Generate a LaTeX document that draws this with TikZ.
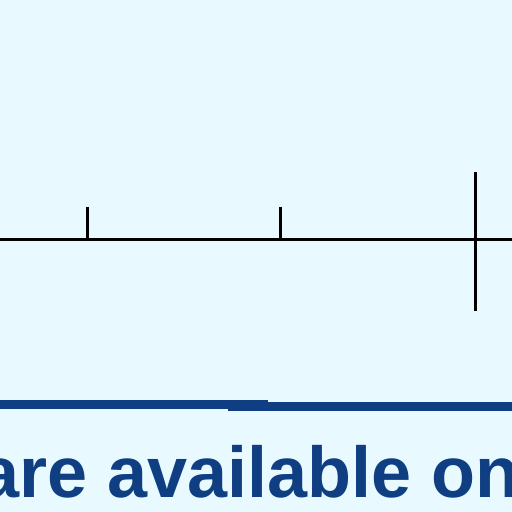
\documentclass[tikz,border=0pt]{standalone}
\usepackage{fontspec}
\setmainfont{Liberation Sans}
\usetikzlibrary{positioning}
\definecolor{bgblue}{HTML}{E8FAFF}
\definecolor{darkblue}{HTML}{0F3F82}

\begin{document}
\begin{tikzpicture}[x=1pt, y=1pt]
                \tikzstyle{axis} = [draw=black, line width=3pt];
                \tikzstyle{rule} = [draw=darkblue, line width=9pt];

                \fill[bgblue] (0,0) rectangle (512,512);
                \useasboundingbox (0,0) rectangle (512,512);

                \coordinate (L) at (0,272);
                \coordinate (R) at (512,272);
                \coordinate (A0) at (87,272);
                \coordinate (A1) at (87,305);
                \coordinate (B0) at (280,272);
                \coordinate (B1) at (280,305);
                \coordinate (C0) at (475,201);
                \coordinate (C1) at (475,340);

                \draw[axis] (L) -- (R);
                \draw[axis] (A0) -- (A1);
                \draw[axis] (B0) -- (B1);
                \draw[axis] (C0) -- (C1);

                \coordinate (P0) at (0,107.5);
                \coordinate (P1) at (268,107.5);
                \coordinate (Q0) at (228,105);
                \coordinate (Q1) at (512,105);
                \draw[rule] (P0) -- (P1);
                \draw[rule] (Q0) -- (Q1);

                \node[anchor=base west, inner sep=0pt, text=darkblue,
                      font=\bfseries\fontsize{72}{72}\selectfont]
                    (T) at (-21,14) {are available on};
            \end{tikzpicture}
\end{document}
